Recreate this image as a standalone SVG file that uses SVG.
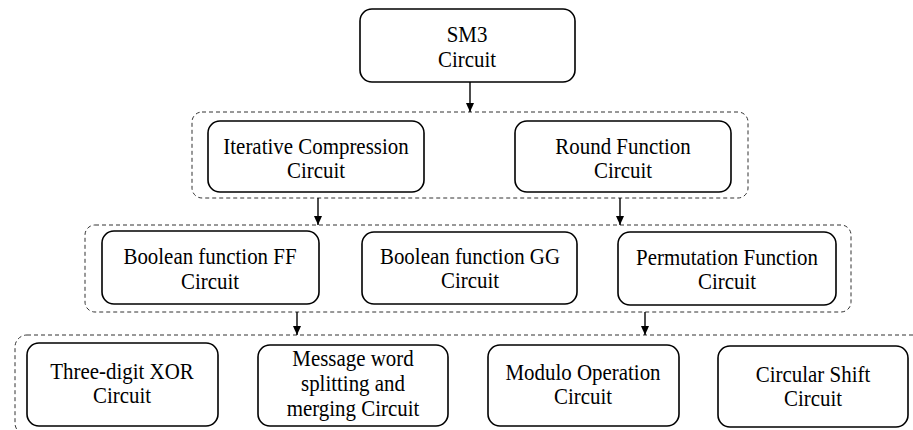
<svg xmlns="http://www.w3.org/2000/svg" width="913" height="430" viewBox="0 0 913 430">
  <defs>
    <marker id="arr" markerWidth="10" markerHeight="10" refX="9" refY="5" orient="auto" markerUnits="userSpaceOnUse">
      <path d="M0,1 L9,5 L0,9 Z" fill="#000"/>
    </marker>
  </defs>
  <style>
    .box { fill: #fff; stroke: #000; stroke-width: 1.6; }
    .grp { fill: none; stroke: #333; stroke-width: 1; stroke-dasharray: 4 3; }
    .lbl { font-family: "Liberation Serif", "Times New Roman", serif; font-size: 22.5px; fill: #000; text-anchor: middle; }
    .conn { stroke: #000; stroke-width: 1.4; fill: none; }
  </style>
  <rect width="913" height="430" fill="#fff"/>

  <g id="groups">
    <rect id="group1" class="grp" x="192" y="112" width="556" height="86" rx="10"/>
    <rect id="group2" class="grp" x="85" y="225" width="766" height="87" rx="10"/>
    <rect id="group3" class="grp" x="15" y="335" width="920" height="100" rx="12"/>
  </g>

  <g id="connectors">
    <line class="conn" x1="470" y1="82" x2="470" y2="112" marker-end="url(#arr)"/>
    <line class="conn" x1="318" y1="198" x2="318" y2="225" marker-end="url(#arr)"/>
    <line class="conn" x1="620" y1="198" x2="620" y2="225" marker-end="url(#arr)"/>
    <line class="conn" x1="297" y1="312" x2="297" y2="335" marker-end="url(#arr)"/>
    <line class="conn" x1="645" y1="312" x2="645" y2="335" marker-end="url(#arr)"/>
  </g>

  <g id="sm3">
    <rect class="box" x="360" y="9" width="215" height="73" rx="12"/>
    <g transform="translate(467 0) scale(0.93 1)">
      <text class="lbl" x="0" y="42">SM3</text>
      <text class="lbl" x="0" y="67">Circuit</text>
    </g>
  </g>

  <g id="iterative">
    <rect class="box" x="208" y="121" width="216" height="71" rx="12"/>
    <g transform="translate(316 0) scale(0.93 1)">
      <text class="lbl" x="0" y="154">Iterative Compression</text>
      <text class="lbl" x="0" y="178">Circuit</text>
    </g>
  </g>

  <g id="round">
    <rect class="box" x="515" y="121" width="216" height="71" rx="12"/>
    <g transform="translate(623 0) scale(0.93 1)">
      <text class="lbl" x="0" y="154">Round Function</text>
      <text class="lbl" x="0" y="178">Circuit</text>
    </g>
  </g>

  <g id="ff">
    <rect class="box" x="102" y="231" width="217" height="73" rx="12"/>
    <g transform="translate(210 0) scale(0.93 1)">
      <text class="lbl" x="0" y="264">Boolean function FF</text>
      <text class="lbl" x="0" y="289">Circuit</text>
    </g>
  </g>

  <g id="gg">
    <rect class="box" x="362" y="232" width="215" height="72" rx="12"/>
    <g transform="translate(470 0) scale(0.93 1)">
      <text class="lbl" x="0" y="264">Boolean function GG</text>
      <text class="lbl" x="0" y="288">Circuit</text>
    </g>
  </g>

  <g id="perm">
    <rect class="box" x="618" y="232" width="218" height="73" rx="12"/>
    <g transform="translate(727 0) scale(0.93 1)">
      <text class="lbl" x="0" y="265">Permutation Function</text>
      <text class="lbl" x="0" y="289">Circuit</text>
    </g>
  </g>

  <g id="xor">
    <rect class="box" x="27" y="343" width="191" height="83" rx="12"/>
    <g transform="translate(122 0) scale(0.93 1)">
      <text class="lbl" x="0" y="379">Three-digit XOR</text>
      <text class="lbl" x="0" y="403">Circuit</text>
    </g>
  </g>

  <g id="message">
    <rect class="box" x="258" y="345" width="190" height="81" rx="12"/>
    <g transform="translate(353 0) scale(0.93 1)">
      <text class="lbl" x="0" y="366">Message word</text>
      <text class="lbl" x="0" y="391">splitting and</text>
      <text class="lbl" x="0" y="416">merging Circuit</text>
    </g>
  </g>

  <g id="modulo">
    <rect class="box" x="488" y="345" width="191" height="81" rx="12"/>
    <g transform="translate(583 0) scale(0.93 1)">
      <text class="lbl" x="0" y="380">Modulo Operation</text>
      <text class="lbl" x="0" y="404">Circuit</text>
    </g>
  </g>

  <g id="circular">
    <rect class="box" x="718" y="346" width="190" height="81" rx="12"/>
    <g transform="translate(813 0) scale(0.93 1)">
      <text class="lbl" x="0" y="382">Circular Shift</text>
      <text class="lbl" x="0" y="406">Circuit</text>
    </g>
  </g>
</svg>
